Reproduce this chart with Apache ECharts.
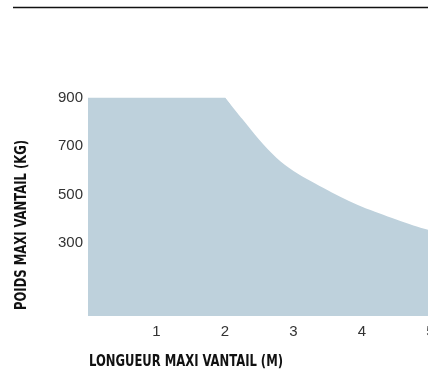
<!DOCTYPE html>
<html>
<head>
<meta charset="utf-8">
<script src="https://cdn.jsdelivr.net/npm/echarts@6/dist/echarts.min.js"></script>
<style>
  html, body { margin: 0; padding: 0; background: #fff; }
  #chart { width: 428px; height: 369px; }
</style>
</head>
<body>
<div id="chart"></div>
<script>
// Maximum leaf weight (kg) against maximum leaf length (m)
// plateau: constant limit up to 2 m
const plateauLengths = [0, 2, 2.08];
const plateauWeights = [900, 900, 870];
// decreasing limit beyond 2 m
const lengths = [2, 2.25, 2.5, 2.75, 3, 3.25, 3.5, 3.75, 4, 4.25, 4.5, 4.75, 5, 5.25, 5.5];
const weights = [900, 812, 726, 652, 597, 556, 518, 482, 450, 423, 397, 373, 352, 333, 316];
const xTicks = [1, 2, 3, 4, 5];
const yTicks = [300, 500, 700, 900];
const xName = 'LONGUEUR MAXI VANTAIL (M)';
const yName = 'POIDS MAXI VANTAIL (KG)';
const fillColor = '#bed1dc';

const nameFont = 'bold 16px "DejaVu Sans Condensed", "DejaVu Sans", sans-serif';
function textWidth(str, font) {
  const ctx = document.createElement('canvas').getContext('2d');
  ctx.font = font;
  return ctx.measureText(str).width;
}
const xNameScale = 194 / textWidth(xName, nameFont);
const yNameScale = 170 / textWidth(yName, nameFont);

const chart = echarts.init(document.getElementById('chart'), null, { renderer: 'canvas' });
chart.setOption({
  animation: false,
  // the plot runs past the right edge of the canvas
  grid: {
    left: 88, top: 97.5, width: 376.75, height: 218.5,
    containLabel: false, outerBoundsMode: 'none'
  },
  xAxis: {
    type: 'value', min: 0, max: 5.5, interval: 1,
    axisLine: { show: false }, axisTick: { show: false }, splitLine: { show: false },
    axisLabel: {
      margin: 8, color: '#333', fontSize: 15, fontFamily: 'Liberation Sans',
      formatter: v => xTicks.includes(v) ? String(v) : ''
    }
  },
  yAxis: {
    type: 'value', min: 0, max: 900, interval: 100,
    axisLine: { show: false }, axisTick: { show: false }, splitLine: { show: false },
    axisLabel: {
      margin: 5, color: '#333', fontSize: 15, fontFamily: 'Liberation Sans',
      formatter: v => yTicks.includes(v) ? String(v) : ''
    }
  },
  series: [
    {
      type: 'line',
      data: plateauLengths.map((x, i) => [x, plateauWeights[i]]),
      symbol: 'none',
      lineStyle: { width: 0 },
      areaStyle: { color: fillColor, opacity: 1 }
    },
    {
      type: 'line',
      data: lengths.map((x, i) => [x, weights[i]]),
      symbol: 'none',
      smooth: 0.3,
      lineStyle: { width: 0 },
      areaStyle: { color: fillColor, opacity: 1 }
    }
  ],
  graphic: [
    {
      type: 'line', silent: true,
      shape: { x1: 13, y1: 7.5, x2: 428, y2: 7.5 },
      style: { stroke: '#111', lineWidth: 1.3 }
    },
    {
      type: 'text', silent: true,
      x: 89, y: 361.5, scaleX: xNameScale,
      style: { text: xName, font: nameFont, fill: '#111', verticalAlign: 'middle', align: 'left' }
    },
    {
      type: 'text', silent: true,
      x: 21.5, y: 310, rotation: Math.PI / 2, scaleX: yNameScale,
      style: { text: yName, font: nameFont, fill: '#111', verticalAlign: 'middle', align: 'left' }
    }
  ]
});
</script>
</body>
</html>
